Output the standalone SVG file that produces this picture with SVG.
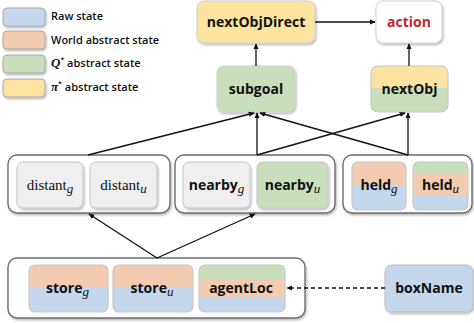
<svg xmlns="http://www.w3.org/2000/svg" width="474" height="323" viewBox="0 0 474 323">
<style>
.lbl{font-family:"Open Sans","Noto Sans",sans-serif;font-weight:700;font-size:14px;fill:#111;text-anchor:middle}
.ser{font-family:"Liberation Serif","DejaVu Serif",serif;font-weight:400;font-size:15px;fill:#111;text-anchor:middle}
.sub{font-family:"Liberation Serif","DejaVu Serif",serif;font-style:italic;font-weight:400;font-size:13px}
.leg{font-family:"Open Sans","Noto Sans",sans-serif;font-weight:600;font-size:11px;fill:#111}
.grp{fill:#fff;stroke:#6e6e6e;stroke-width:1.4}
.nd{fill:none;stroke:#c8c8c8;stroke-width:1.2}
.conn{stroke:#111;stroke-width:1.3;fill:none}
.blue{fill:#c4d7ec}.orng{fill:#f2cbb0}.grn{fill:#c9dfbb}.yel{fill:#fce3a0}.gray{fill:#efefef}
</style>
<defs>
<filter id="sh" x="-20%" y="-20%" width="140%" height="150%">
<feDropShadow dx="1" dy="1.5" stdDeviation="1.2" flood-color="#000" flood-opacity="0.3"/>
</filter>
<marker id="ah" viewBox="0 0 8 8" refX="7" refY="4" markerWidth="6" markerHeight="6" orient="auto" markerUnits="userSpaceOnUse">
<path d="M0,0.5 L8,4 L0,7.5 Z" fill="#111"/>
</marker>
<clipPath id="c-heldg"><rect x="352" y="162" width="54" height="48" rx="6"/></clipPath>
<clipPath id="c-heldu"><rect x="413" y="162" width="55" height="48" rx="6"/></clipPath>
<clipPath id="c-storeg"><rect x="29" y="265" width="79" height="47" rx="6"/></clipPath>
<clipPath id="c-storeu"><rect x="113" y="265" width="80" height="47" rx="6"/></clipPath>
<clipPath id="c-agent"><rect x="199" y="265" width="86" height="47" rx="6"/></clipPath>
<clipPath id="c-nextobj"><rect x="371" y="66" width="77" height="46" rx="7"/></clipPath>
</defs>

<g id="legend">
<rect x="3" y="8" width="42" height="18" rx="4" class="blue" stroke="#aaa" filter="url(#sh)"/>
<text x="51" y="20" class="leg">Raw state</text>
<rect x="3" y="31" width="42" height="18" rx="4" class="orng" stroke="#aaa" filter="url(#sh)"/>
<text x="51" y="44" class="leg">World abstract state</text>
<rect x="3" y="55" width="42" height="18" rx="4" class="grn" stroke="#aaa" filter="url(#sh)"/>
<text x="51" y="67" class="leg"><tspan font-family="Liberation Serif,serif" font-style="italic" font-weight="700" font-size="13">Q</tspan><tspan font-size="7" dy="-5">*</tspan><tspan dy="5"> abstract state</tspan></text>
<rect x="3" y="79" width="42" height="18" rx="4" class="yel" stroke="#aaa" filter="url(#sh)"/>
<text x="51" y="91" class="leg"><tspan font-family="Liberation Serif,serif" font-style="italic" font-weight="700" font-size="13">π</tspan><tspan font-size="7" dy="-5">*</tspan><tspan dy="5"> abstract state</tspan></text>
</g>

<g id="nextObjDirect">
<rect x="197" y="1" width="118" height="42" rx="7" class="yel" stroke="#cfcfcf" filter="url(#sh)"/>
<text x="256" y="27" class="lbl">nextObjDirect</text>
</g>
<g id="action">
<rect x="376" y="1" width="66" height="42" rx="7" fill="#fff" stroke="#cfcfcf" filter="url(#sh)"/>
<text x="409" y="27" class="lbl" style="fill:#c0282d">action</text>
</g>
<g id="subgoal">
<rect x="217" y="66" width="78" height="46" rx="7" class="grn" stroke="#cfcfcf" filter="url(#sh)"/>
<text x="256" y="94" class="lbl" font-size="14.5">subgoal</text>
</g>
<g id="nextObj">
<g clip-path="url(#c-nextobj)" filter="url(#sh)">
<rect x="371" y="66" width="77" height="22" class="yel"/>
<rect x="371" y="88" width="77" height="24" class="grn"/>
</g>
<rect x="371" y="66" width="77" height="46" rx="7" class="nd"/>
<text x="409.5" y="94" class="lbl" font-size="14.5">nextObj</text>
</g>

<g id="group-distant">
<rect x="8" y="155" width="162" height="58" rx="9" class="grp" filter="url(#sh)"/>
<g id="distant_g">
<rect x="17" y="162" width="66" height="46" rx="6" class="gray" stroke="#c8c8c8" filter="url(#sh)"/>
<text x="50" y="190" class="ser">distant<tspan class="sub" dy="3">g</tspan></text>
</g>
<g id="distant_u">
<rect x="90" y="162" width="67" height="46" rx="6" class="gray" stroke="#c8c8c8" filter="url(#sh)"/>
<text x="123.5" y="190" class="ser">distant<tspan class="sub" dy="3">u</tspan></text>
</g>
</g>

<g id="group-nearby">
<rect x="175" y="155" width="160" height="58" rx="9" class="grp" filter="url(#sh)"/>
<g id="nearby_g">
<rect x="183" y="162" width="67" height="46" rx="6" class="gray" stroke="#c8c8c8" filter="url(#sh)"/>
<text x="216.5" y="190" class="lbl" font-size="14.5">nearby<tspan class="sub" dy="3">g</tspan></text>
</g>
<g id="nearby_u">
<rect x="257" y="162" width="71" height="46" rx="6" class="grn" stroke="#c8c8c8" filter="url(#sh)"/>
<text x="292.5" y="190" class="lbl" font-size="14.5">nearby<tspan class="sub" dy="3">u</tspan></text>
</g>
</g>

<g id="group-held">
<rect x="343" y="155" width="129" height="58" rx="9" class="grp" filter="url(#sh)"/>
<g id="held_g">
<g clip-path="url(#c-heldg)" filter="url(#sh)">
<rect x="352" y="162" width="54" height="23" class="orng"/>
<rect x="352" y="185" width="54" height="25" class="blue"/>
</g>
<rect x="352" y="162" width="54" height="48" rx="6" class="nd"/>
<text x="379" y="190" class="lbl" font-size="14.5">held<tspan class="sub" dy="3">g</tspan></text>
</g>
<g id="held_u">
<g clip-path="url(#c-heldu)" filter="url(#sh)">
<rect x="413" y="162" width="55" height="11" class="grn"/>
<rect x="413" y="173" width="55" height="22" class="orng"/>
<rect x="413" y="195" width="55" height="15" class="blue"/>
</g>
<rect x="413" y="162" width="55" height="48" rx="6" class="nd"/>
<text x="440.5" y="190" class="lbl" font-size="14.5">held<tspan class="sub" dy="3">u</tspan></text>
</g>
</g>

<g id="group-store">
<rect x="8" y="258" width="297" height="60" rx="9" class="grp" filter="url(#sh)"/>
<g id="store_g">
<g clip-path="url(#c-storeg)" filter="url(#sh)">
<rect x="29" y="265" width="79" height="23" class="orng"/>
<rect x="29" y="288" width="79" height="24" class="blue"/>
</g>
<rect x="29" y="265" width="79" height="47" rx="6" class="nd"/>
<text x="67.5" y="293" class="lbl">store<tspan class="sub" dy="3">g</tspan></text>
</g>
<g id="store_u">
<g clip-path="url(#c-storeu)" filter="url(#sh)">
<rect x="113" y="265" width="80" height="23" class="orng"/>
<rect x="113" y="288" width="80" height="24" class="blue"/>
</g>
<rect x="113" y="265" width="80" height="47" rx="6" class="nd"/>
<text x="152" y="293" class="lbl">store<tspan class="sub" dy="3">u</tspan></text>
</g>
<g id="agentLoc">
<g clip-path="url(#c-agent)" filter="url(#sh)">
<rect x="199" y="265" width="86" height="15" class="grn"/>
<rect x="199" y="280" width="86" height="17" class="orng"/>
<rect x="199" y="297" width="86" height="15" class="blue"/>
</g>
<rect x="199" y="265" width="86" height="47" rx="6" class="nd"/>
<text x="241" y="293" class="lbl" font-size="15">agentLoc</text>
</g>
</g>

<g id="boxName">
<rect x="385" y="265" width="88" height="47" rx="7" class="blue" stroke="#bcbcbc" filter="url(#sh)"/>
<text x="429" y="293" class="lbl" font-size="14.5">boxName</text>
</g>

<g id="connectors">
<line class="conn" x1="315" y1="22" x2="375" y2="22" marker-end="url(#ah)"/>
<line class="conn" x1="256" y1="66" x2="256" y2="44" marker-end="url(#ah)"/>
<line class="conn" x1="409" y1="66" x2="409" y2="44" marker-end="url(#ah)"/>
<line class="conn" x1="88" y1="155" x2="254" y2="113" marker-end="url(#ah)"/>
<line class="conn" x1="257" y1="155" x2="257" y2="113" marker-end="url(#ah)"/>
<line class="conn" x1="408" y1="155" x2="260" y2="113" marker-end="url(#ah)"/>
<line class="conn" x1="257" y1="155" x2="405" y2="113" marker-end="url(#ah)"/>
<line class="conn" x1="408" y1="155" x2="408" y2="113" marker-end="url(#ah)"/>
<line class="conn" x1="157" y1="258" x2="89" y2="214" marker-end="url(#ah)"/>
<line class="conn" x1="157" y1="258" x2="255" y2="214" marker-end="url(#ah)"/>
<line class="conn" x1="385" y1="288" x2="287" y2="288" stroke-dasharray="4,3" marker-end="url(#ah)"/>
</g>
</svg>
